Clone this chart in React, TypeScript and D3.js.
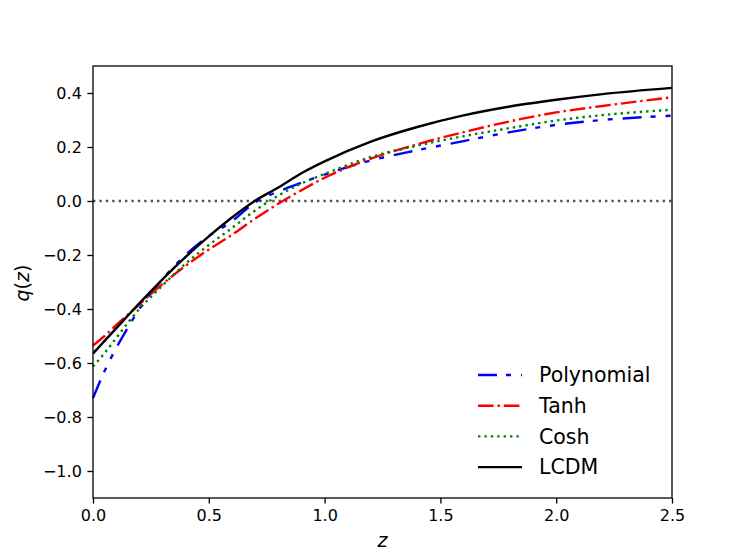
import React, { useEffect, useRef } from 'react';
import * as d3 from 'd3';

// redshift grid
const zGrid = [0, 0.05, 0.1, 0.15, 0.2, 0.3, 0.4, 0.5, 0.6, 0.7, 0.8, 0.9, 1.0, 1.2, 1.4, 1.6, 1.8, 2.0, 2.2, 2.5];

const polynomial = [-0.73, -0.63, -0.545, -0.47, -0.4, -0.29, -0.2, -0.13, -0.075, -0.005, 0.035, 0.068, 0.098, 0.15, 0.188, 0.222, 0.255, 0.282, 0.3, 0.316];
const tanh = [-0.535, -0.5, -0.46, -0.422, -0.383, -0.308, -0.24, -0.18, -0.125, -0.065, -0.01, 0.04, 0.086, 0.157, 0.21, 0.255, 0.295, 0.328, 0.352, 0.384];
const cosh = [-0.613, -0.563, -0.508, -0.452, -0.4, -0.313, -0.232, -0.163, -0.1, -0.035, 0.02, 0.065, 0.1, 0.163, 0.205, 0.24, 0.27, 0.298, 0.318, 0.338];
const lcdm = [-0.565, -0.518, -0.472, -0.425, -0.379, -0.29, -0.207, -0.131, -0.061, 0.001, 0.05, 0.103, 0.147, 0.22, 0.274, 0.317, 0.35, 0.375, 0.396, 0.419];

const xTicks = [0, 0.5, 1.0, 1.5, 2.0, 2.5];
const yTicks = [-1.0, -0.8, -0.6, -0.4, -0.2, 0.0, 0.2, 0.4];

const seriesNames = ['Polynomial', 'Tanh', 'Cosh', 'LCDM'];
const seriesValues = [polynomial, tanh, cosh, lcdm];
const seriesColors = ['#0000ff', '#ff0000', '#008000', '#000000'];
const seriesDash = ['19,9,5,10,5,10', '15.6,3.9,2.4,3.9', '2.4,4', null];

const App: React.FC = () => {
  const svgRef = useRef<SVGSVGElement>(null);
  const width = 747;
  const height = 560;

  useEffect(() => {
    if (!svgRef.current) return;
    const svg = d3.select(svgRef.current);
    svg.selectAll('*').remove();

    const margin = { top: 66, right: 75, bottom: 62, left: 93 };
    const innerWidth = width - margin.left - margin.right;
    const innerHeight = height - margin.top - margin.bottom;
    const font = 'DejaVu Sans, sans-serif';

    const g = svg
      .append('g')
      .attr('transform', `translate(${margin.left},${margin.top})`);

    const xScale = d3.scaleLinear().domain([0, 2.5]).range([0, innerWidth]);
    const yScale = d3.scaleLinear().domain([-1.1, 0.5]).range([innerHeight, 0]);

    const fmt = (d: number) => d3.format('.1f')(d).replace('-', '\u2212');

    // Axes
    const xAxis = g
      .append('g')
      .attr('transform', `translate(0,${innerHeight})`)
      .call(d3.axisBottom(xScale).tickValues(xTicks).tickFormat(d => fmt(d as number)).tickSize(5.6).tickPadding(5.6));
    const yAxis = g
      .append('g')
      .call(d3.axisLeft(yScale).tickValues(yTicks).tickFormat(d => fmt(d as number)).tickSize(5.6).tickPadding(5.6));

    [xAxis, yAxis].forEach(ax => {
      ax.select('.domain').remove();
      ax.selectAll('line').attr('stroke', '#000').attr('stroke-width', 1.3);
      ax.selectAll('text')
        .attr('fill', '#000')
        .style('font-family', font)
        .style('font-size', '16px');
    });

    // zero line
    g.append('line')
      .attr('x1', 0)
      .attr('x2', innerWidth)
      .attr('y1', yScale(0))
      .attr('y2', yScale(0))
      .attr('stroke', '#555')
      .attr('stroke-width', 2.4)
      .attr('stroke-dasharray', '2.4,4');

    const line = d3
      .line<number>()
      .x((_, i) => xScale(zGrid[i]))
      .y(d => yScale(d))
      .curve(d3.curveMonotoneX);

    seriesValues.forEach((vals, i) => {
      const p = g.append('path')
        .datum(vals)
        .attr('fill', 'none')
        .attr('stroke', seriesColors[i])
        .attr('stroke-width', 2.4)
        .attr('d', line);
      if (seriesDash[i]) p.attr('stroke-dasharray', seriesDash[i] as string);
    });

    // frame
    g.append('rect')
      .attr('width', innerWidth)
      .attr('height', innerHeight)
      .attr('fill', 'none')
      .attr('stroke', '#000')
      .attr('stroke-width', 1.3);

    // Labels
    svg.append('text')
      .attr('x', margin.left + innerWidth / 2)
      .attr('y', 547)
      .attr('text-anchor', 'middle')
      .style('font-family', font)
      .style('font-style', 'italic')
      .style('font-size', '19px')
      .text('z');

    const yl = svg.append('text')
      .attr('transform', `translate(29,283) rotate(-90)`)
      .attr('text-anchor', 'middle')
      .style('font-family', font)
      .style('font-size', '19px');
    yl.append('tspan').style('font-style', 'italic').text('q');
    yl.append('tspan').text('(');
    yl.append('tspan').style('font-style', 'italic').text('z');
    yl.append('tspan').text(')');

    // Legend
    const legend = svg.append('g');
    seriesNames.forEach((name, i) => {
      const y = 375 + i * 30.7;
      const l = legend.append('line')
        .attr('x1', 478)
        .attr('x2', 522)
        .attr('y1', y)
        .attr('y2', y)
        .attr('stroke', seriesColors[i])
        .attr('stroke-width', 2.4);
      if (seriesDash[i]) l.attr('stroke-dasharray', seriesDash[i] as string);
      legend.append('text')
        .attr('x', 539)
        .attr('y', y)
        .attr('dy', '0.36em')
        .style('font-family', font)
        .style('font-size', '20.5px')
        .text(name);
    });
  }, []);

  return (
    <svg
      ref={svgRef}
      width={width}
      height={height}
      style={{ position: 'absolute', left: 0, top: 0, background: '#fff' }}
    />
  );
};

export default App;
